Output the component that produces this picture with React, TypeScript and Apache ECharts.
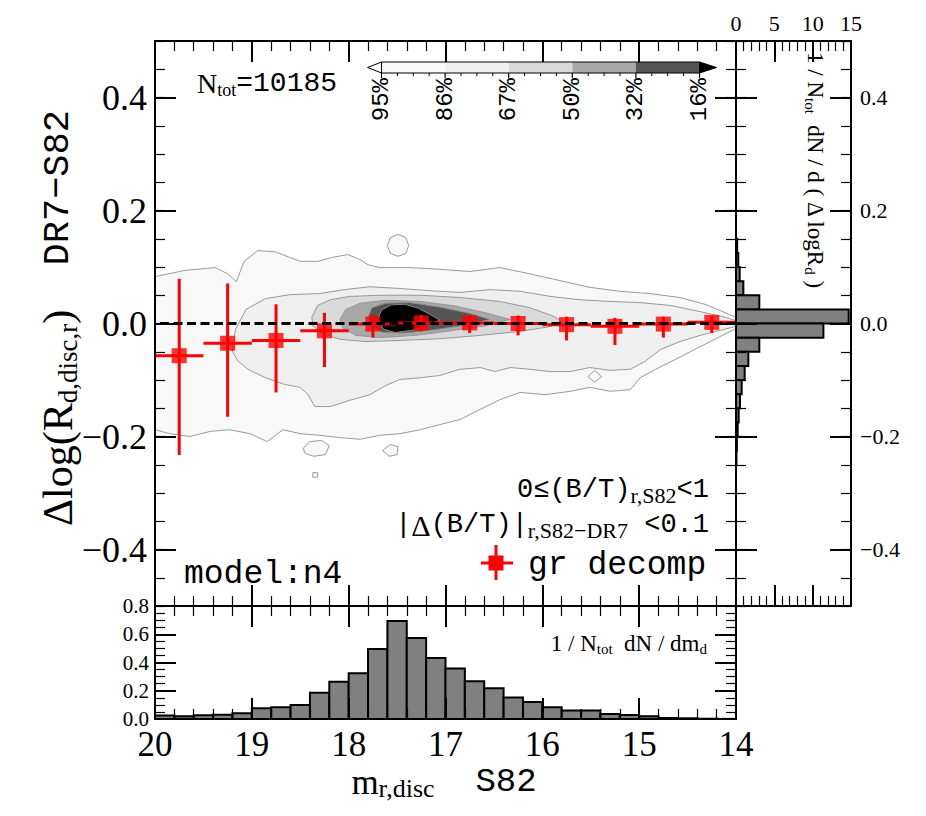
import React, { useEffect, useRef } from "react";
import * as echarts from "echarts";

const SERIF = "'Liberation Serif', 'DejaVu Serif', serif";
const MONO = "'Liberation Mono', 'DejaVu Sans Mono', monospace";

// ---------- median offsets in bins of disc magnitude (gr decomp) ----------
const binCenters = [19.75, 19.25, 18.75, 18.25, 17.75, 17.25, 16.75, 16.25, 15.75, 15.25, 14.75, 14.25];
const binHalfWidth = [0.25, 0.25, 0.25, 0.25, 0.25, 0.25, 0.25, 0.25, 0.25, 0.25, 0.25, 0.25];
const medianDelta = [-0.057, -0.035, -0.030, -0.013, -0.001, 0.001, 0.001, 0.0, -0.002, -0.005, -0.001, 0.002];
const upperDelta = [0.079, 0.071, 0.034, 0.019, 0.016, 0.015, 0.014, 0.014, 0.012, 0.010, 0.012, 0.013];
const lowerDelta = [-0.233, -0.165, -0.122, -0.077, -0.025, -0.014, -0.017, -0.021, -0.030, -0.038, -0.025, -0.017];

// ---------- bottom histogram: 1/N_tot dN/dm_d ----------
const magBinLeft = [20.0, 19.8, 19.6, 19.4, 19.2, 19.0, 18.8, 18.6, 18.4, 18.2, 18.0, 17.8, 17.6, 17.4, 17.2, 17.0, 16.8, 16.6, 16.4, 16.2, 16.0, 15.8, 15.6, 15.4, 15.2, 15.0, 14.8, 14.6, 14.4, 14.2];
const magBinWidth = 0.2;
const magHist = [0.024, 0.020, 0.026, 0.030, 0.040, 0.076, 0.083, 0.100, 0.186, 0.264, 0.324, 0.495, 0.693, 0.574, 0.431, 0.357, 0.267, 0.217, 0.152, 0.121, 0.083, 0.060, 0.060, 0.036, 0.029, 0.019, 0.007, 0.005, 0.002, 0.001];

// ---------- right histogram: 1/N_tot dN/d(Δ log R_d) ----------
const dBinLow = [0.125, 0.1, 0.075, 0.05, 0.025, 0.0, -0.025, -0.05, -0.075, -0.1, -0.125, -0.15, -0.175, -0.2, -0.225, -0.25];
const dBinWidth = 0.025;
const dHist = [0.15, 0.30, 0.48, 0.96, 3.04, 14.7, 11.4, 3.04, 1.61, 1.13, 0.74, 0.52, 0.35, 0.22, 0.12, 0.06];

// ---------- tick labels / levels ----------
const deltaTicks = [-0.4, -0.2, 0, 0.2, 0.4];
const pctLabels = ["95%", "86%", "67%", "50%", "32%", "16%"];
const levelColors = ["#f8f8f8", "#efefef", "#d9d9d9", "#a8a8a8", "#555555", "#000000"];

// ---------- density contours (m_r,disc , Δlog R_d) ----------
const contour95 = [[20.0, 0.083], [19.69, 0.094], [19.38, 0.099], [19.25, 0.088], [19.16, 0.074], [19.08, 0.11], [18.94, 0.129], [18.76, 0.127], [18.61, 0.117], [18.5, 0.11], [18.32, 0.11], [18.17, 0.117], [18.01, 0.122], [17.88, 0.113], [17.8, 0.104], [17.68, 0.099], [17.37, 0.099], [17.06, 0.096], [16.75, 0.092], [16.44, 0.099], [16.13, 0.088], [15.82, 0.076], [15.51, 0.064], [15.2, 0.057], [14.89, 0.053], [14.58, 0.046], [14.32, 0.034], [14.11, 0.019], [14.0, 0.011], [14.0, -0.009], [14.14, -0.021], [14.37, -0.041], [14.63, -0.064], [14.83, -0.081], [14.99, -0.096], [15.09, -0.117], [15.3, -0.12], [15.51, -0.113], [15.71, -0.12], [15.97, -0.126], [16.23, -0.122], [16.44, -0.135], [16.64, -0.152], [16.85, -0.17], [17.06, -0.179], [17.26, -0.188], [17.47, -0.195], [17.68, -0.198], [17.88, -0.205], [18.09, -0.202], [18.3, -0.198], [18.5, -0.195], [18.68, -0.188], [18.84, -0.209], [19.02, -0.195], [19.23, -0.188], [19.43, -0.191], [19.64, -0.2], [19.85, -0.195], [20.0, -0.188]];
const contour86 = [[19.2, -0.05], [19.17, -0.011], [19.06, 0.025], [18.86, 0.044], [18.61, 0.051], [18.3, 0.053], [18.04, 0.06], [17.78, 0.065], [17.47, 0.062], [17.16, 0.058], [16.85, 0.055], [16.54, 0.06], [16.23, 0.057], [15.92, 0.048], [15.61, 0.042], [15.3, 0.039], [14.99, 0.037], [14.68, 0.032], [14.37, 0.021], [14.11, 0.011], [14.0, 0.005], [14.0, -0.005], [14.16, -0.012], [14.37, -0.021], [14.58, -0.032], [14.78, -0.046], [14.94, -0.067], [15.09, -0.081], [15.3, -0.083], [15.51, -0.078], [15.71, -0.085], [15.92, -0.085], [16.13, -0.081], [16.33, -0.078], [16.49, -0.085], [16.64, -0.078], [16.85, -0.081], [17.06, -0.092], [17.26, -0.096], [17.47, -0.099], [17.62, -0.11], [17.78, -0.126], [17.99, -0.136], [18.19, -0.147], [18.35, -0.147], [18.42, -0.126], [18.5, -0.113], [18.66, -0.108], [18.86, -0.096], [19.04, -0.081], [19.14, -0.067]];
const contour67 = [[18.38, 0.011], [18.32, 0.032], [18.19, 0.042], [17.99, 0.048], [17.68, 0.05], [17.26, 0.05], [16.85, 0.046], [16.44, 0.039], [16.13, 0.028], [15.9, 0.014], [15.8, 0.004], [15.9, -0.005], [16.23, -0.014], [16.64, -0.021], [17.06, -0.027], [17.47, -0.03], [17.83, -0.032], [18.09, -0.028], [18.27, -0.018], [18.37, -0.004]];
const contour50 = [[18.09, 0.007], [18.03, 0.025], [17.88, 0.036], [17.62, 0.041], [17.26, 0.039], [16.9, 0.031], [16.59, 0.019], [16.33, 0.007], [16.59, -0.004], [16.95, -0.013], [17.31, -0.021], [17.68, -0.025], [17.93, -0.021], [18.06, -0.008]];
const contour32 = [[17.8, 0.011], [17.76, 0.028], [17.62, 0.036], [17.37, 0.037], [17.06, 0.029], [16.75, 0.018], [16.54, 0.007], [16.8, -0.003], [17.11, -0.011], [17.42, -0.017], [17.65, -0.016], [17.77, -0.004]];
const contour16 = [[17.7, 0.008], [17.66, 0.024], [17.56, 0.033], [17.42, 0.034], [17.28, 0.027], [17.16, 0.016], [17.06, 0.006], [17.18, -0.004], [17.35, -0.012], [17.52, -0.016], [17.64, -0.01]];
const island95a = [[17.38, 0.138], [17.41, 0.152], [17.49, 0.158], [17.57, 0.152], [17.6, 0.138], [17.57, 0.124], [17.49, 0.119], [17.41, 0.124]];
const island95b = [[18.47, -0.221], [18.4, -0.209], [18.28, -0.207], [18.2, -0.216], [18.24, -0.232], [18.36, -0.235], [18.45, -0.23]];
const island95c = [[17.65, -0.225], [17.57, -0.214], [17.49, -0.218], [17.5, -0.232], [17.58, -0.235]];
const island95d = [[18.37, -0.264], [18.32, -0.264], [18.32, -0.272], [18.37, -0.272]];
const island86a = [[16.5, -0.069], [16.54, -0.064], [16.58, -0.069], [16.54, -0.073]];
const island86b = [[15.39, -0.094], [15.46, -0.083], [15.53, -0.094], [15.46, -0.104]];

const contourShapes = [
  { level: 0, pts: contour95 },
  { level: 0, pts: island95a },
  { level: 0, pts: island95b },
  { level: 0, pts: island95c },
  { level: 0, pts: island95d },
  { level: 0, pts: island86a },
  { level: 0, pts: island86b },
  { level: 1, pts: contour86 },
  { level: 2, pts: contour67 },
  { level: 3, pts: contour50 },
  { level: 4, pts: contour32 },
  { level: 5, pts: contour16 },
];

// ---------- layout (pixels) ----------
const MAIN = { left: 155, top: 41, width: 581, height: 565 };
const BOT = { left: 155, top: 606, width: 581, height: 113 };
const RIGHT = { left: 736, top: 41, width: 115, height: 565 };

const fmtNum = (v: number) => (v < -1e-9 ? "\u2212" : "") + Math.abs(v).toFixed(1);

const axLine = { show: true, onZero: false, lineStyle: { color: "#000", width: 2 } };
const majTick = (len = 21) => ({ show: true, inside: true, length: len, lineStyle: { color: "#000", width: 2 } });
const minTick = (split: number, len = 10) => ({ show: true, splitNumber: split, length: len, lineStyle: { color: "#000", width: 1.2 } });
const noSplit = { show: false };

function magAxis(gridIndex: number, position: string, labels: boolean) {
  return {
    type: "value", gridIndex, position, min: 14, max: 20, inverse: true, interval: 1, z: 10,
    axisLine: axLine, axisTick: majTick(), minorTick: minTick(5), splitLine: noSplit, minorSplitLine: noSplit,
    axisLabel: labels
      ? { show: true, fontFamily: SERIF, fontSize: 35, lineHeight: 32, color: "#000", margin: 9, formatter: (v: number) => String(Math.round(v)) }
      : { show: false },
  };
}
function deltaMajor(gridIndex: number, position: string, labels: boolean, fontSize: number, margin: number) {
  return {
    type: "value", gridIndex, position, min: -0.5, max: 0.5, interval: 0.1, z: 10,
    axisLine: axLine, axisTick: { ...majTick(), customValues: deltaTicks }, splitLine: noSplit,
    axisLabel: labels
      ? { show: true, customValues: deltaTicks, formatter: fmtNum, fontFamily: SERIF, fontSize, color: "#000", margin }
      : { show: false },
  };
}
function deltaMinor(gridIndex: number, position: string) {
  return {
    type: "value", gridIndex, position, min: -0.5, max: 0.5, interval: 0.05, z: 10,
    axisLine: axLine, axisTick: { show: true, inside: true, length: 10, lineStyle: { color: "#000", width: 1.2 } },
    splitLine: noSplit, axisLabel: { show: false },
  };
}
function histYAxis(position: string, labels: boolean) {
  return {
    type: "value", gridIndex: 1, position, min: 0, max: 0.8, interval: 0.2, z: 10,
    axisLine: axLine, axisTick: majTick(), minorTick: minTick(4), splitLine: noSplit, minorSplitLine: noSplit,
    axisLabel: labels ? { show: true, formatter: fmtNum, fontFamily: SERIF, fontSize: 21, lineHeight: 16, color: "#000", margin: 6 } : { show: false },
  };
}
function countAxis(position: string, labels: boolean) {
  return {
    type: "value", gridIndex: 2, position, min: 0, max: 15, interval: 5, z: 10,
    axisLine: axLine, axisTick: majTick(), minorTick: minTick(5), splitLine: noSplit, minorSplitLine: noSplit,
    axisLabel: labels ? { show: true, fontFamily: SERIF, fontSize: 22, color: "#000", margin: 7 } : { show: false },
  };
}

function rectBetween(a: number[], b: number[], style: any) {
  return {
    type: "rect",
    shape: { x: Math.min(a[0], b[0]), y: Math.min(a[1], b[1]), width: Math.abs(b[0] - a[0]), height: Math.abs(b[1] - a[1]) },
    style,
  };
}

function buildOption(): any {
  const red = "#ff0000";
  const cbX0 = 381.5, cbSeg = 63.6, cbY = 62, cbH = 11;
  const cbChildren: any[] = [];
  cbChildren.push({ type: "polygon", shape: { points: [[cbX0 - 14, cbY + cbH / 2], [cbX0, cbY], [cbX0, cbY + cbH]] }, style: { fill: "#ffffff", stroke: "#000", lineWidth: 1 } });
  for (let i = 0; i < 5; i++) {
    cbChildren.push({ type: "rect", shape: { x: cbX0 + i * cbSeg, y: cbY, width: cbSeg, height: cbH }, style: { fill: levelColors[i] } });
  }
  cbChildren.push({ type: "rect", shape: { x: cbX0, y: cbY, width: cbSeg * 5, height: cbH }, style: { fill: "none", stroke: "#000", lineWidth: 1 } });
  cbChildren.push({ type: "polygon", shape: { points: [[cbX0 + 5 * cbSeg, cbY], [cbX0 + 5 * cbSeg + 17, cbY + cbH / 2], [cbX0 + 5 * cbSeg, cbY + cbH]] }, style: { fill: levelColors[5], stroke: "#000", lineWidth: 1 } });
  for (let i = 0; i < pctLabels.length; i++) {
    const x = cbX0 + i * cbSeg;
    cbChildren.push({ type: "line", shape: { x1: x, y1: cbY + cbH, x2: x, y2: cbY + cbH + 5 }, style: { stroke: "#000", lineWidth: 1.2 } });
    if (i < 5) {
      for (let k = 1; k < 4; k++) {
        const xm = x + (k * cbSeg) / 4;
        cbChildren.push({ type: "line", shape: { x1: xm, y1: cbY + cbH, x2: xm, y2: cbY + cbH + 3 }, style: { stroke: "#000", lineWidth: 1 } });
      }
    }
    cbChildren.push({
      type: "text", x, y: 78, rotation: Math.PI / 2,
      style: { text: pctLabels[i], fontFamily: MONO, fontSize: 24, fill: "#000", align: "right", verticalAlign: "middle" },
    });
  }

  const texts: any[] = [
    {
      type: "text", x: 197, y: 83, z: 100,
      style: {
        text: "{n|N}{s|tot}{t|=10185}", align: "left", verticalAlign: "middle", fill: "#000",
        rich: {
          n: { fontFamily: SERIF, fontSize: 28, lineHeight: 32, fill: "#000" },
          s: { fontFamily: SERIF, fontSize: 18, lineHeight: 12, verticalAlign: "bottom", fill: "#000" },
          t: { fontFamily: MONO, fontSize: 28, lineHeight: 32, fill: "#000" },
        },
      },
    },
    { type: "text", x: 184, y: 574, z: 100, style: { text: "model:n4", fontFamily: MONO, fontSize: 33, fill: "#000", align: "left", verticalAlign: "middle" } },
    { type: "text", x: 528, y: 565, z: 100, style: { text: "gr decomp", fontFamily: MONO, fontSize: 33, fill: "#000", align: "left", verticalAlign: "middle" } },
    {
      type: "text", x: 709, y: 490, z: 100,
      style: {
        text: "{t|0\u2264(B/T)}{s|r,S82}{t|<1}", align: "right", verticalAlign: "middle",
        rich: {
          t: { fontFamily: MONO, fontSize: 27, lineHeight: 32, fill: "#000" },
          s: { fontFamily: SERIF, fontSize: 22, lineHeight: 14, verticalAlign: "bottom", fill: "#000" },
        },
      },
    },
    {
      type: "text", x: 709, y: 525, z: 100,
      style: {
        text: "{t||}{d|\u0394}{t|(B/T)|}{s|r,S82\u2212DR7}{t| <0.1}", align: "right", verticalAlign: "middle",
        rich: {
          t: { fontFamily: MONO, fontSize: 27, lineHeight: 32, fill: "#000" },
          d: { fontFamily: SERIF, fontSize: 30, lineHeight: 32, fill: "#000" },
          s: { fontFamily: SERIF, fontSize: 22, lineHeight: 14, verticalAlign: "bottom", fill: "#000" },
        },
      },
    },
    {
      type: "text", x: 707, y: 643, z: 100,
      style: {
        text: "{a|1 / N}{s|tot}{a|  dN / dm}{s|d}", align: "right", verticalAlign: "middle",
        rich: {
          a: { fontFamily: SERIF, fontSize: 23, lineHeight: 26, fill: "#000" },
          s: { fontFamily: SERIF, fontSize: 15, lineHeight: 10, verticalAlign: "bottom", fill: "#000" },
        },
      },
    },
    {
      type: "text", x: 815, y: 52, z: 100, rotation: -Math.PI / 2,
      style: {
        text: "{a|1 / N}{s|tot}{a|  dN / d ( \u0394 logR}{s|d}{a| )}", align: "left", verticalAlign: "middle",
        rich: {
          a: { fontFamily: SERIF, fontSize: 23, lineHeight: 26, fill: "#000" },
          s: { fontFamily: SERIF, fontSize: 15, lineHeight: 10, verticalAlign: "bottom", fill: "#000" },
        },
      },
    },
    {
      type: "text", x: 58, y: 318, z: 100, rotation: Math.PI / 2,
      style: {
        text: "{a|\u0394log(R}{s|d,disc,r}{a|)}{t|  DR7\u2212S82}", align: "center", verticalAlign: "middle",
        rich: {
          a: { fontFamily: SERIF, fontSize: 42, lineHeight: 46, fill: "#000" },
          s: { fontFamily: SERIF, fontSize: 27, lineHeight: 16, verticalAlign: "bottom", fill: "#000" },
          t: { fontFamily: MONO, fontSize: 37, lineHeight: 46, fill: "#000" },
        },
      },
    },
    {
      type: "text", x: 444, y: 782, z: 100,
      style: {
        text: "{a|m}{s|r,disc}{t|  S82}", align: "center", verticalAlign: "middle",
        rich: {
          a: { fontFamily: SERIF, fontSize: 35, lineHeight: 38, fill: "#000" },
          s: { fontFamily: SERIF, fontSize: 26, lineHeight: 12, verticalAlign: "bottom", fill: "#000" },
          t: { fontFamily: MONO, fontSize: 34, lineHeight: 38, fill: "#000" },
        },
      },
    },
    {
      type: "group", z: 100,
      children: [
        { type: "line", shape: { x1: 481, y1: 563, x2: 513, y2: 563 }, style: { stroke: red, lineWidth: 3 } },
        { type: "line", shape: { x1: 496, y1: 545, x2: 496, y2: 580 }, style: { stroke: red, lineWidth: 3 } },
        { type: "rect", shape: { x: 488.5, y: 555.5, width: 15, height: 15 }, style: { fill: red } },
      ],
    },
    { type: "group", z: 100, children: cbChildren },
  ];

  return {
    animation: false,
    backgroundColor: "#ffffff",
    textStyle: { fontFamily: SERIF },
    grid: [
      { ...MAIN, outerBoundsMode: "none" },
      { ...BOT, outerBoundsMode: "none" },
      { ...RIGHT, outerBoundsMode: "none" },
    ],
    xAxis: [
      magAxis(0, "bottom", false),
      magAxis(0, "top", false),
      magAxis(1, "bottom", true),
      magAxis(1, "top", false),
      countAxis("top", true),
      countAxis("bottom", false),
    ],
    yAxis: [
      deltaMajor(0, "left", true, 36, 8),
      deltaMinor(0, "left"),
      deltaMajor(0, "right", false, 22, 8),
      deltaMinor(0, "right"),
      histYAxis("left", true),
      histYAxis("right", false),
      deltaMajor(2, "left", false, 22, 8),
      deltaMinor(2, "left"),
      deltaMajor(2, "right", true, 22, 9),
      deltaMinor(2, "right"),
    ],
    series: [
      {
        type: "custom", name: "contours", xAxisIndex: 0, yAxisIndex: 0, z: 1, clip: true,
        encode: { x: 0, y: 1 },
        data: contourShapes.map((c) => [c.pts[0][0], c.pts[0][1]]),
        renderItem: (params: any, api: any) => {
          const c = contourShapes[params.dataIndex];
          return {
            type: "polygon",
            shape: { points: c.pts.map((p) => api.coord(p)) },
            style: { fill: levelColors[c.level], stroke: "#8f8f8f", lineWidth: 0.9 },
          };
        },
      },
      {
        type: "custom", name: "errorbars", xAxisIndex: 0, yAxisIndex: 0, z: 2, clip: true,
        encode: { x: 0, y: 1 },
        data: binCenters.map((m, i) => [m, medianDelta[i], lowerDelta[i], upperDelta[i], binHalfWidth[i]]),
        renderItem: (params: any, api: any) => {
          const m = api.value(0), y = api.value(1), lo = api.value(2), hi = api.value(3), hw = api.value(4);
          const pL = api.coord([m + hw, y]), pR = api.coord([m - hw, y]);
          const pT = api.coord([m, hi]), pB = api.coord([m, lo]);
          return {
            type: "group",
            children: [
              { type: "line", shape: { x1: pL[0], y1: pL[1], x2: pR[0], y2: pR[1] }, style: { stroke: red, lineWidth: 3 } },
              { type: "line", shape: { x1: pT[0], y1: pT[1], x2: pB[0], y2: pB[1] }, style: { stroke: red, lineWidth: 3 } },
            ],
          };
        },
      },
      {
        type: "line", name: "zero", xAxisIndex: 0, yAxisIndex: 0, z: 3, data: [],
        markLine: {
          silent: true, symbol: ["none", "none"], label: { show: false },
          lineStyle: { color: "#000", width: 3, type: [9, 4.5] },
          data: [{ yAxis: 0 }],
        },
      },
      {
        type: "scatter", name: "gr decomp", xAxisIndex: 0, yAxisIndex: 0, z: 4,
        symbol: "rect", symbolSize: 15, itemStyle: { color: red },
        data: binCenters.map((m, i) => [m, medianDelta[i]]),
      },
      {
        type: "custom", name: "magHist", xAxisIndex: 2, yAxisIndex: 4, z: 2, clip: true,
        encode: { x: 0, y: 1 },
        data: magBinLeft.map((l, i) => [l, magHist[i]]),
        renderItem: (params: any, api: any) => {
          const l = api.value(0), h = api.value(1);
          return rectBetween(api.coord([l, h]), api.coord([l - magBinWidth, 0]), { fill: "#808080", stroke: "#000", lineWidth: 2 });
        },
      },
      {
        type: "custom", name: "dHist", xAxisIndex: 4, yAxisIndex: 6, z: 2, clip: true,
        encode: { x: 0, y: 1 },
        data: dBinLow.map((l, i) => [dHist[i], l]),
        renderItem: (params: any, api: any) => {
          const v = api.value(0), l = api.value(1);
          return rectBetween(api.coord([0, l + dBinWidth]), api.coord([v, l]), { fill: "#808080", stroke: "#000", lineWidth: 2 });
        },
      },
    ],
    graphic: texts,
  };
}

export default function App() {
  const ref = useRef<HTMLDivElement>(null);
  useEffect(() => {
    const chart = echarts.init(ref.current as HTMLDivElement, null, { renderer: "svg" });
    chart.setOption(buildOption());
    return () => chart.dispose();
  }, []);
  return (
    <div
      ref={ref}
      style={{ position: "absolute", left: 0, top: 0, width: 926, height: 816, background: "#ffffff" }}
    />
  );
}
